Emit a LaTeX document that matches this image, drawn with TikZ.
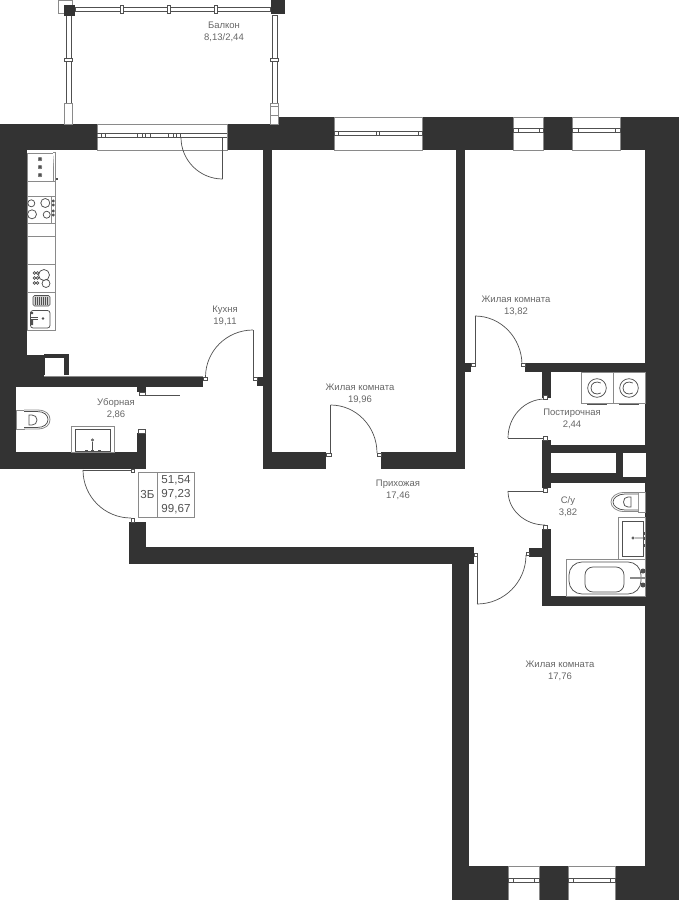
\documentclass[tikz,border=0pt]{standalone}
\usepackage{fontspec}
\setmainfont{Liberation Sans}
\usetikzlibrary{calc}
\definecolor{wallc}{HTML}{333333}
\definecolor{edgec}{HTML}{8A8A8A}
\definecolor{linec}{HTML}{505050}
\definecolor{labc}{HTML}{666666}
\tikzset{
  blk/.style={fill=wallc,draw=none},
  glass/.style={fill=white,draw=edgec,line width=0.8pt},
  rail/.style={fill=white,draw=linec,line width=0.7pt},
  fine/.style={draw=linec,line width=0.75pt,fill=none},
  fix/.style={draw=edgec,line width=0.8pt,fill=white},
  swing/.style={draw=linec,line width=0.7pt},
  lab/.style={text=labc,font=\fontsize{9.5}{12}\selectfont,align=center,inner sep=0pt},
  info/.style={text=linec,font=\fontsize{11.6}{14.5}\selectfont,align=center,inner sep=0pt}
}
\newcommand\swingarc[6]{\draw[swing] (#1,#2) .. controls ($(#1,#2)!0.5523!(#5,#6)$) and ($(#3,#4)!0.5523!(#5,#6)$) .. (#3,#4);}
\newcommand\boxr[4]{\path[rail] (#1,#2) rectangle (#3,#4);}
\begin{document}
\begin{tikzpicture}[x=1pt,y=-1pt]
\useasboundingbox (0,0) rectangle (679,900);
% main walls
\path[blk] (0,124) rectangle (679,150);
\path[blk] (278,117) rectangle (679,124);
\path[blk] (0,150) rectangle (27,355);
\path[blk] (0,355) rectangle (44,377);
\path[blk] (0,377) rectangle (203,387);
\path[blk] (0,387) rectangle (16,469);
\path[blk] (0,452) rectangle (146,469);
\path[blk] (137,433) rectangle (146,452);
\path[blk] (137,387) rectangle (146,392);
% ventilation shaft in the kitchen
\path[blk] (44,354) rectangle (69,375);
\path[fill=white] (45,358) rectangle (64,375);
\draw[fine,draw=edgec] (44,376) -- (203,376);
% partitions
\path[blk] (263,150) rectangle (272,469);
\path[blk] (263,452) rectangle (326,469);
\path[blk] (257,377) rectangle (263,386);
\path[blk] (456,150) rectangle (465,469);
\path[blk] (381,452) rectangle (465,469);
\path[blk] (465,363) rectangle (471,372);
\path[blk] (525,363) rectangle (679,372);
\path[blk] (542,372) rectangle (551,398);
\path[blk] (542,440) rectangle (551,488);
\path[blk] (551,445) rectangle (679,453);
\path[blk] (551,473) rectangle (650,483);
\path[blk] (616,453) rectangle (623,477);
\path[blk] (542,529) rectangle (551,606);
\path[blk] (542,596) rectangle (679,606);
\path[blk] (529,548) rectangle (542,557);
% outer walls
\path[blk] (645,150) rectangle (679,900);
\path[blk] (452,866) rectangle (679,900);
\path[blk] (452,564) rectangle (469,866);
\path[blk] (129,522) rectangle (146,564);
\path[blk] (129,547) rectangle (474,564);
% shaft voids
\path[fill=white] (551,453) rectangle (616,473);
\path[fill=white] (623,453) rectangle (646,477);
% windows
\path[glass] (97,124) rectangle (227,150);
\draw[fine] (97,133.5) -- (227,133.5) (97,137.5) -- (227,137.5);
\foreach \a/\b in {101/105.5,137.7/142.7,145.7/150.7,168/173,176.7/180.7}{\draw[fine] (\a,133.5) rectangle (\b,137.5);}
\path[glass] (334,117) rectangle (422,150);
\draw[fine] (334,131.5) -- (422,131.5) (334,135.5) -- (422,135.5);
\foreach \a/\b in {334/338.5,376/379,418/422}{\draw[fine] (\a,131.5) rectangle (\b,135.5);}
\path[glass] (513,117) rectangle (543,150);
\draw[fine] (513,128.5) -- (543,128.5) (513,132.5) -- (543,132.5);
\foreach \a/\b in {513/518.5,539/543}{\draw[fine] (\a,128.5) rectangle (\b,132.5);}
\path[glass] (572,117) rectangle (620,150);
\draw[fine] (572,128.5) -- (620,128.5) (572,132.5) -- (620,132.5);
\foreach \a/\b in {572/578.5,615.5/620}{\draw[fine] (\a,128.5) rectangle (\b,132.5);}
\path[glass] (508,866) rectangle (539,900);
\draw[fine] (508,878.5) -- (539,878.5) (508,882.5) -- (539,882.5);
\foreach \a/\b in {508/513.5,534/539}{\draw[fine] (\a,878.5) rectangle (\b,882.5);}
\path[glass] (568,866) rectangle (615,900);
\draw[fine] (568,878.5) -- (615,878.5) (568,882.5) -- (615,882.5);
\foreach \a/\b in {568/573.5,610/615}{\draw[fine] (\a,878.5) rectangle (\b,882.5);}
% balcony
\boxr{75}{7}{270}{11}
\foreach \x in {122,169,216}{\boxr{\x-1.5}{5}{\x+1.5}{13}}
\boxr{66}{15}{71}{103}
\boxr{272.5}{15}{277}{103}
\boxr{64}{58}{72}{61}
\boxr{270}{58}{278}{61}
\path[rail,draw=edgec] (58,0) rectangle (72,13);
\path[blk] (64,5) rectangle (75,15.5);
\path[blk] (271,0) rectangle (284.5,14);
\path[rail,draw=edgec] (64.5,103) rectangle (72,124);
\path[rail,draw=edgec] (270.5,103) rectangle (278,124);
\draw[fine,draw=edgec] (270.5,106) -- (278,106) (270.5,115) -- (278,115);
% doors
\draw[swing] (222.7,137.5) -- (222.7,179);
\swingarc{222.7}{179}{181}{137.5}{181}{179}
\draw[swing] (253,330) -- (253,377);
\swingarc{253}{330}{205.5}{377}{205.5}{330}
\boxr{203}{377}{207}{380}
\boxr{253}{377}{257}{380}
\draw[swing] (330.5,405) -- (330.5,455);
\swingarc{330.5}{405}{377}{453}{377}{405}
\boxr{326}{453}{331}{456}
\boxr{377}{453}{381}{456}
\draw[swing] (475,316) -- (475,365);
\swingarc{475}{316}{522}{365}{522}{316}
\boxr{471}{363}{475}{366}
\boxr{521}{363}{525}{366}
\draw[swing] (545,438) -- (508,438);
\swingarc{508}{438}{545}{399}{508}{399}
\boxr{543}{395}{547}{399}
\boxr{543}{436}{547}{440}
\draw[swing] (545,491) -- (508,491);
\swingarc{508}{491}{545}{525}{508}{525}
\boxr{543}{488}{547}{492}
\boxr{543}{525}{547}{529}
\draw[swing] (477,553) -- (477,604);
\swingarc{477}{604}{526}{555}{526}{604}
\boxr{474}{553}{477.5}{556}
\boxr{526}{552}{529}{555}
\draw[swing] (83,470) -- (131,470);
\swingarc{83}{470}{131}{518}{83}{518}
\boxr{131}{469}{134}{472.5}
\boxr{131}{518}{134}{522}
\draw[swing] (139,395) -- (180,395);
\boxr{139}{392}{145}{395}
\boxr{138}{429}{145}{433}
% info plate
\draw[fix,fill=none] (138,472) rectangle (194,517) (157.5,472) -- (157.5,517);
\node[info] (plateA) at (147.5,494.5) {3Б};
\node[info] (plateB) at (176,480) {51,54};
\node[info] (plateC) at (176,494.5) {97,23};
\node[info] (plateD) at (176,509) {99,67};
% kitchen furniture
\path[fix] (27,181) rectangle (55,330);
\draw[fix] (27,196) -- (55,196) (27,223) -- (55,223) (27,236) -- (55,236) (27,264) -- (55,264) (27,292.5) -- (55,292.5);
\path[fix] (27,153) rectangle (53,181);
\draw[fix] (53,152) -- (55,152) -- (55,181);
\path[fill=linec] (55.5,177.5) rectangle (58,179.5);
\foreach \y in {159,167,175}{\draw[fine] (38,\y) -- (42,\y) (40,\y-2) -- (40,\y+2) (38.5,\y-1.5) -- (41.5,\y+1.5) (38.5,\y+1.5) -- (41.5,\y-1.5);}
\draw[fine] (31.3,203.3) circle[radius=3.5] (45.3,203) circle[radius=4.5] (32,214.3) circle[radius=4.5] (46.7,214.7) circle[radius=3.5];
\draw[fix] (51.7,196) -- (51.7,223);
\foreach \y in {201,205,211,215}{\path[fill=linec] (53.3,\y) circle[radius=1.6];}
\draw[fine] (44,275) circle[radius=5.5] (46,283.5) circle[radius=4];
\foreach \y in {273,278,283}{\draw[fine] (34.5,\y) circle[radius=1.4] (37.5,\y) circle[radius=1.4];}
\path[fill=gray!35,draw=linec,line width=0.6pt,rounded corners=1.5pt] (33,295.5) rectangle (50,306);
\foreach \x in {35,37,39,41,43,45,47}{\draw[draw=linec,line width=0.5pt] (\x,296.5) -- (\x,305);}
\draw[fine,rounded corners=2.5pt] (30.5,310.5) rectangle (50,328);
\path[fill=linec] (43,318.5) circle[radius=1.3];
\draw[fine] (31,317.5) -- (38,317.5) (31,319.5) -- (38,319.5);
\path[fill=linec] (30,312) rectangle (33,314) (30,323) rectangle (33,325) (31,319) rectangle (33,323);
% WC fixtures (Ubornaya)
\path[fix] (16,410) rectangle (24,429);
\draw[fix] (24,410) -- (37,410) .. controls (46,410) and (50,414) .. (50,419.5) .. controls (50,425) and (46,429) .. (37,429) -- (24,429);
\draw[fine] (24,411.5) -- (37,411.5) .. controls (44,411.5) and (48,415) .. (48,419.5) .. controls (48,424) and (44,427.5) .. (37,427.5) -- (24,427.5);
\draw[fine] (29,415) -- (32,415) .. controls (35,415) and (37,417) .. (37,420) .. controls (37,423) and (35,425) .. (32,425) -- (29,425) -- cycle;
\path[fix] (71,426) rectangle (114,452);
\draw[fine] (75,429) rectangle (110,451);
\draw[fine] (92.5,440) circle[radius=1.2] (92.5,442) -- (92.5,451);
\foreach \x in {86,92.5,99}{\path[fill=linec] (\x-1.5,450) rectangle (\x+1.5,452);}
% washers
\path[fix] (581,372) rectangle (613,403);
\path[fix] (613,372) rectangle (645,403);
\foreach \c in {597,629}{
  \draw[fine] (\c,388) circle[radius=9.3];
  \draw[fine] (\c+3.8,383) .. controls (\c-1,380.5) and (\c-6,383) .. (\c-6,388) .. controls (\c-6,393) and (\c-1,395.5) .. (\c+3.8,393);
  \draw[fine] (\c-10,404.5) -- (\c+10,404.5);
}
% bathroom fixtures
\path[fix] (638,492) rectangle (645,512);
\draw[fix] (638,492.5) -- (624,492.5) .. controls (616,492.5) and (611,497) .. (611,502) .. controls (611,507) and (616,511.5) .. (624,511.5) -- (638,511.5);
\draw[fine] (638,494) -- (625,494) .. controls (618,494) and (613,498) .. (613,502) .. controls (613,506) and (618,510) .. (625,510) -- (638,510);
\draw[fine] (631,497) -- (628,497) .. controls (625,497) and (623.5,499) .. (623.5,502) .. controls (623.5,505) and (625,507) .. (628,507) -- (631,507) -- cycle;
\path[fix] (618,517) rectangle (645,559);
\draw[fine] (622,521) rectangle (643,556);
\draw[fine] (633,538) circle[radius=1.2] (635,538) -- (645,538);
\foreach \y in {533,538,545}{\path[fill=linec] (642.5,\y-1.5) rectangle (645,\y+1.5);}
\path[fix] (566,559) rectangle (645,596);
\draw[fine,rounded corners=13pt] (569,562) rectangle (641,594);
\draw[fine,rounded corners=8pt] (585,567) rectangle (624,592);
\draw[draw=edgec,line width=1.4pt] (630,578) -- (645,578);
\foreach \y in {571,585}{\path[fill=linec] (643,\y) circle[radius=2.5];}
% room labels
\node[lab] (balkon) at (224,32) {Балкон\\8,13/2,44};
\node[lab] (kuhnya) at (225,316) {Кухня\\19,11};
\node[lab] (ubor) at (116,409) {Уборная\\2,86};
\node[lab] (room2) at (360,394) {Жилая комната\\19,96};
\node[lab] (room3) at (516,306) {Жилая комната\\13,82};
\node[lab] (postir) at (572,419) {Постирочная\\2,44};
\node[lab] (su) at (568,507) {С/у\\3,82};
\node[lab] (hall) at (398,490) {Прихожая\\17,46};
\node[lab] (room4) at (560,671) {Жилая комната\\17,76};
\end{tikzpicture}
\end{document}
